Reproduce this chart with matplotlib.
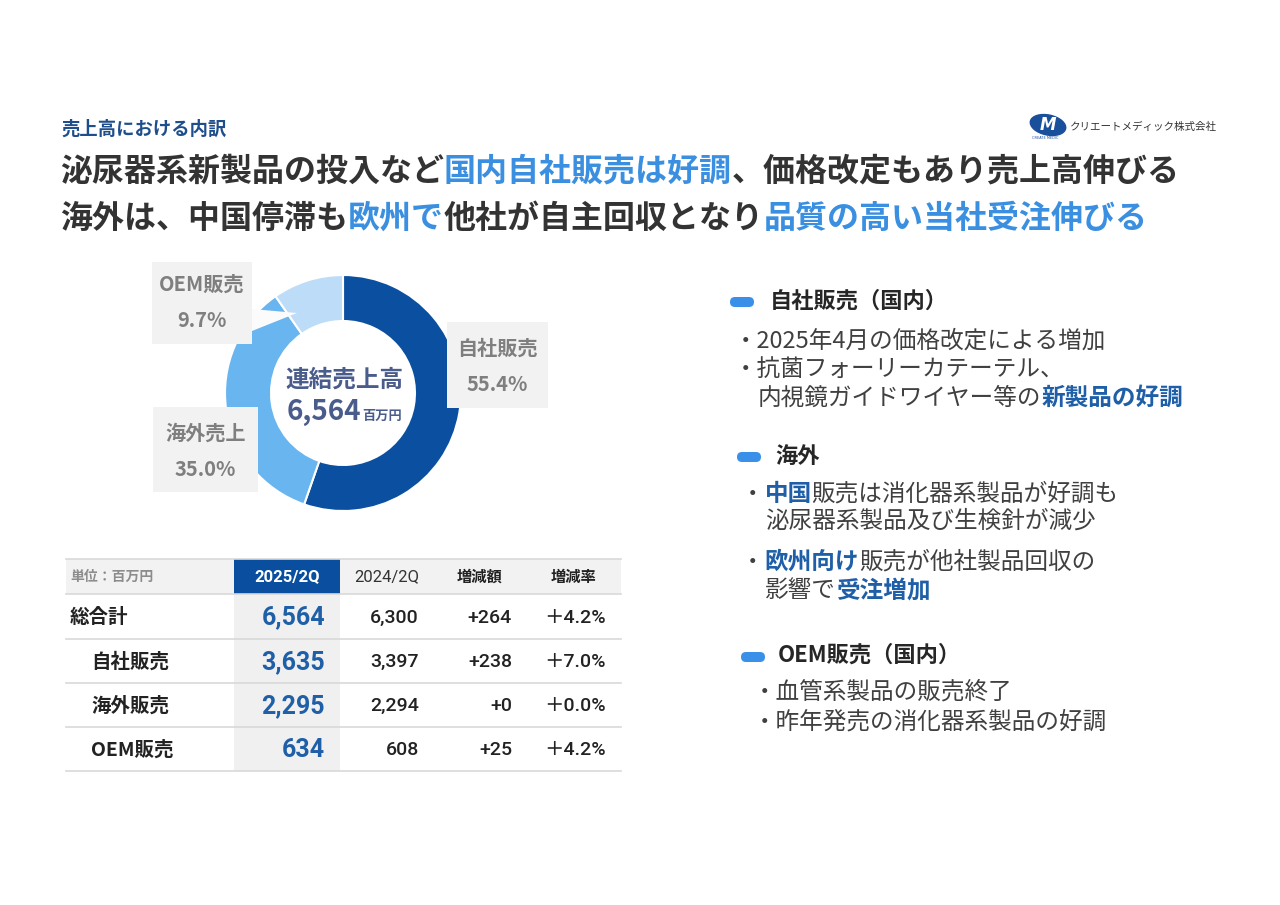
import matplotlib
matplotlib.use('Agg')
import matplotlib.pyplot as plt
from matplotlib.patches import Rectangle, FancyBboxPatch, Polygon, Ellipse

FONT = ['Noto Sans CJK JP', 'DejaVu Sans']
NUM_FONT = ['Roboto', 'Noto Sans CJK JP', 'DejaVu Sans']
plt.rcParams['font.family'] = FONT

# ---- data ----
donut_labels = ['自社販売', '海外売上', 'OEM販売']
donut_shares = [55.4, 35.0, 9.7]
donut_total = '6,564'

table_header = ['単位：百万円', '2025/2Q', '2024/2Q', '増減額', '増減率']
table_rows = ['総合計', '自社販売', '海外販売', 'OEM販売']
sales_2025 = [6564, 3635, 2295, 634]
sales_2024 = [6300, 3397, 2294, 608]
sales_diff = [264, 238, 0, 25]
sales_rate = [4.2, 7.0, 0.0, 4.2]

DARK = '#333333'
TXT = '#404040'
TITLE_BLUE = '#3a8fe0'
NAVY = '#1f5fa8'
PILL = '#3a8fe8'

fig = plt.figure(figsize=(12.8, 9.05), dpi=100)
fig.patch.set_facecolor('white')

# donut axes (pixel box: centre 343,393 radius 118)
cx, cy, R = 343, 393, 118
pax = fig.add_axes([(cx - R) / 1280, 1 - (cy + R) / 905, 2 * R / 1280, 2 * R / 905], zorder=1)
pax.pie(donut_shares, startangle=90, counterclock=False,
        colors=['#0a4fa0', '#68b5f0', '#bddcf8'],
        wedgeprops=dict(width=0.39, edgecolor='white', linewidth=1.5))
pax.set_xlim(-1, 1)
pax.set_ylim(-1, 1)
pax.axis('off')

# overlay axes in pixel coordinates
ax = fig.add_axes([0, 0, 1, 1], zorder=2)
ax.set_xlim(0, 1280)
ax.set_ylim(905, 0)
ax.patch.set_alpha(0)
ax.axis('off')

renderer = fig.canvas.get_renderer()


def runs(x, y, parts, size, va='center'):
    # parts: list of (text, color, weight) drawn one after another
    for s, color, weight in parts:
        t = ax.text(x, y, s, fontsize=size, color=color, fontweight=weight,
                    ha='left', va=va, family=FONT)
        x += t.get_window_extent(renderer=renderer).width
    return x


# ---- header ----
ax.text(61, 129, '売上高における内訳', fontsize=13.2, fontweight='bold', color='#1f4e8c', va='center')
runs(60, 172, [('泌尿器系新製品の投入など', DARK, 'bold'), ('国内自社販売は好調', TITLE_BLUE, 'bold'),
               ('、価格改定もあり売上高伸びる', DARK, 'bold')], 23)
runs(60, 219, [('海外は、中国停滞も', DARK, 'bold'), ('欧州で', TITLE_BLUE, 'bold'),
               ('他社が自主回収となり', DARK, 'bold'), ('品質の高い当社受注伸びる', TITLE_BLUE, 'bold')], 23)

# logo
ax.add_patch(Ellipse((1048, 125), 36, 20, angle=12, color='#1a4f9c'))
ax.text(1048, 125, 'M', fontsize=12, fontweight='bold', fontstyle='italic', color='white',
        ha='center', va='center', family='DejaVu Sans')
ax.text(1045, 138, 'CREATE MEDIC', fontsize=2.5, color='#1a4f9c', ha='center', va='center', family='DejaVu Sans')
ax.text(1070, 127, 'クリエートメディック株式会社', fontsize=7.6, color='#333333', va='center')

# ---- donut labels ----
ax.add_patch(Polygon([(252, 309), (297, 313), (252, 331)], closed=True, facecolor='#fbfbfb', edgecolor='none'))
label_boxes = [(447, 322, 101, 86, 348, 384), (153, 407, 105, 85, 433, 469), (152, 262, 100, 82, 284, 320)]
for (bx, by, bw, bh, ty1, ty2), name, share in zip(label_boxes, donut_labels, donut_shares):
    ax.add_patch(Rectangle((bx, by), bw, bh, facecolor='#f2f2f2', edgecolor='none'))
    ax.text(bx + bw / 2, ty1, name, fontsize=14.5, fontweight='bold', color='#7f7f7f', ha='center', va='center')
    ax.text(bx + bw / 2, ty2, f'{share:.1f}%', fontsize=14.5, fontweight='bold', color='#7f7f7f', ha='center', va='center')

ax.text(344, 380, '連結売上高', fontsize=17, fontweight='bold', color='#4a5c8c', ha='center', va='center')
t = ax.text(287, 420, donut_total, fontsize=20, fontweight='bold', color='#4a5c8c', ha='left', va='baseline')
x_end = 287 + t.get_window_extent(renderer=renderer).width
ax.text(x_end + 1, 420, '百万円', fontsize=9.5, fontweight='bold', color='#4a5c8c', ha='left', va='baseline')

# ---- table ----
col_x = [66, 234, 340, 433, 527, 621]
row_y = [559, 594, 639, 683, 727, 771]
ax.add_patch(Rectangle((col_x[0], row_y[0]), col_x[-1] - col_x[0], row_y[1] - row_y[0], facecolor='#f2f2f2', edgecolor='none'))
ax.add_patch(Rectangle((col_x[1], row_y[0]), col_x[2] - col_x[1], row_y[1] - row_y[0], facecolor='#0a4f9f', edgecolor='none'))
ax.add_patch(Rectangle((col_x[1], row_y[1]), col_x[2] - col_x[1], row_y[-1] - row_y[1], facecolor='#f0f0f0', edgecolor='none'))
for yy in row_y:
    ax.plot([col_x[0], col_x[-1]], [yy, yy], color='#d9d9d9', lw=1.2)

hy = (row_y[0] + row_y[1]) / 2
ax.text(70, hy, table_header[0], fontsize=10, fontweight='bold', color='#8c8c8c', va='center')
ax.text((col_x[1] + col_x[2]) / 2, hy, table_header[1], fontsize=12, fontweight='bold', color='white',
        ha='center', va='center', family=NUM_FONT)
ax.text((col_x[2] + col_x[3]) / 2, hy, table_header[2], fontsize=12, color='#333333',
        ha='center', va='center', family=NUM_FONT)
ax.text((col_x[3] + col_x[4]) / 2, hy, table_header[3], fontsize=11, fontweight='bold', color='#222222', ha='center', va='center')
ax.text((col_x[4] + col_x[5]) / 2, hy, table_header[4], fontsize=11, fontweight='bold', color='#222222', ha='center', va='center')

for i, name in enumerate(table_rows):
    yc = (row_y[i + 1] + row_y[i + 2]) / 2 + 1
    ax.text(70 if i == 0 else 91, yc, name, fontsize=14, fontweight='bold', color='#222222', va='center')
    ax.text(325, yc, f'{sales_2025[i]:,}', fontsize=18, fontweight='bold', color=NAVY,
            ha='right', va='center', family=NUM_FONT)
    ax.text(419, yc, f'{sales_2024[i]:,}', fontsize=14, fontweight='medium', color='#222222',
            ha='right', va='center', family=NUM_FONT)
    ax.text(512, yc, f'+{sales_diff[i]}', fontsize=14, fontweight='medium', color='#222222',
            ha='right', va='center', family=NUM_FONT)
    ax.text(606, yc, f'＋{sales_rate[i]:.1f}%', fontsize=14, fontweight='medium', color='#222222',
            ha='right', va='center', family=NUM_FONT)


# ---- right hand commentary ----
def pill(x, y):
    ax.add_patch(FancyBboxPatch((x, y - 5), 24, 10, boxstyle='round,pad=0,rounding_size=5',
                                facecolor=PILL, edgecolor='none'))


BODY = 17
pill(730, 302)
ax.text(770, 301, '自社販売（国内）', fontsize=16, fontweight='bold', color='#262626', va='center')
runs(734, 341, [('・2025年4月の価格改定による増加', TXT, 'normal')], BODY)
runs(734, 369, [('・抗菌フォーリーカテーテル、', TXT, 'normal')], BODY)
runs(758, 398, [('内視鏡ガイドワイヤー等の', TXT, 'normal'), ('新製品の好調', NAVY, 'bold')], BODY)

pill(737, 457)
ax.text(775, 456, '海外', fontsize=16, fontweight='bold', color='#262626', va='center')
runs(741, 494, [('・', TXT, 'normal'), ('中国', NAVY, 'bold'), ('販売は消化器系製品が好調も', TXT, 'normal')], BODY)
runs(765, 521, [('泌尿器系製品及び生検針が減少', TXT, 'normal')], BODY)
runs(741, 562, [('・', TXT, 'normal'), ('欧州向け', NAVY, 'bold'), ('販売が他社製品回収の', TXT, 'normal')], BODY)
runs(765, 590, [('影響で', TXT, 'normal'), ('受注増加', NAVY, 'bold')], BODY)

pill(741, 657)
ax.text(778, 655, 'OEM販売（国内）', fontsize=16, fontweight='bold', color='#262626', va='center')
runs(753, 692, [('・血管系製品の販売終了', TXT, 'normal')], BODY)
runs(753, 722, [('・昨年発売の消化器系製品の好調', TXT, 'normal')], BODY)

fig.savefig('out.png', dpi=100, facecolor='white')
